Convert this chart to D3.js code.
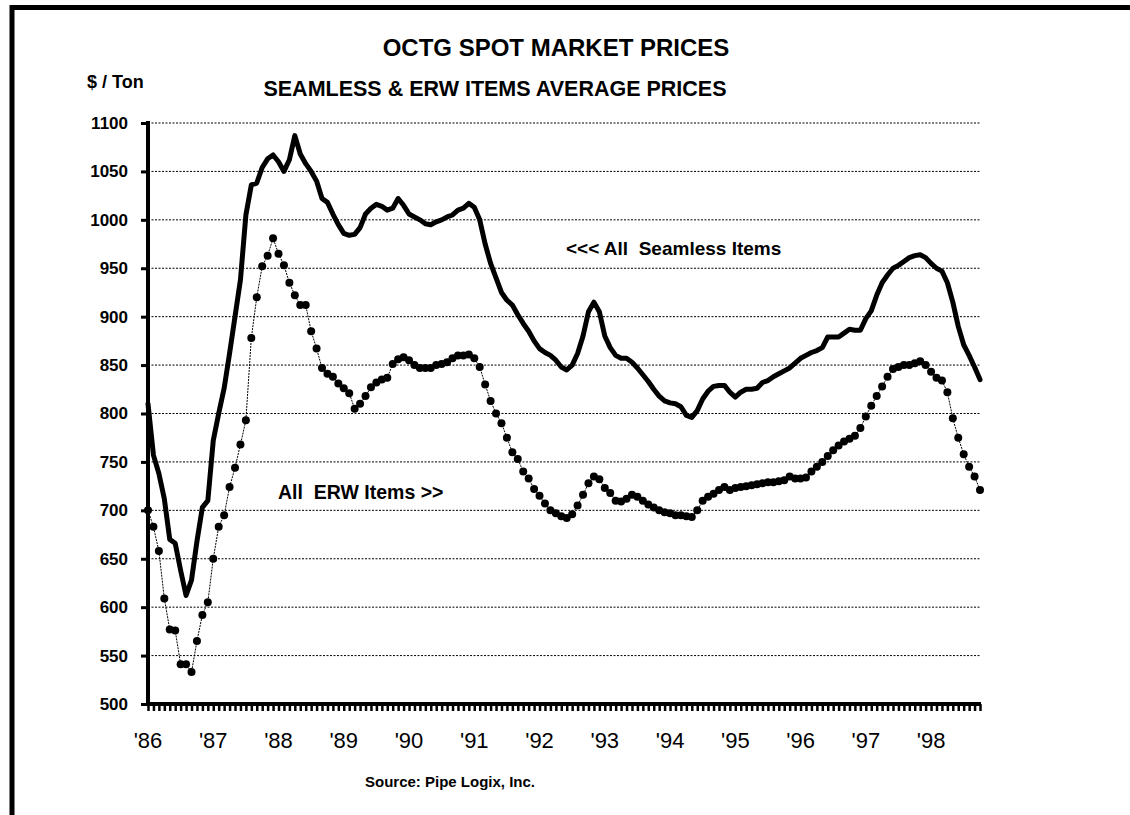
<!DOCTYPE html>
<html>
<head>
<meta charset="utf-8">
<script src="https://cdn.jsdelivr.net/npm/d3@7"></script>
<style>
  html, body { margin: 0; padding: 0; background: #fff; }
  svg { display: block; font-family: "Liberation Sans", Arial, sans-serif; }
</style>
</head>
<body>
<svg id="chart" width="1130" height="815"></svg>
<script>
// ---- Data (monthly, Jan 1986 .. Oct 1998), $/Ton ----
const seamless = [
  810, 757, 738, 712, 670, 666, 638, 612, 628, 668, 703, 710, 772,
  800, 826, 862, 900, 938, 1005, 1036, 1038, 1054, 1063, 1067, 1060, 1050,
  1062, 1087, 1068, 1058, 1050, 1040, 1022, 1018, 1006, 995, 986, 984, 985,
  992, 1006, 1012, 1016, 1014, 1010, 1012, 1022, 1015, 1006, 1003, 1000, 996,
  995, 998, 1000, 1003, 1005, 1010, 1012, 1017, 1013,
  1000, 975, 955, 940, 925, 917, 912, 902, 893, 885, 875, 867, 863, 860, 855,
  848, 845, 850, 862, 880, 905, 915, 905, 880, 868, 860, 857, 857, 853, 847,
  840, 833, 825,
  818, 813, 811, 810, 807, 798, 796, 803, 815, 823, 828, 829, 829, 822, 817,
  822, 825, 825, 826, 832, 834, 838, 841, 844, 847, 852, 857, 860, 863, 865,
  868, 879, 879, 879, 883, 887, 886, 886, 898, 906, 922, 935, 943, 950, 953,
  957, 961, 963, 964, 961, 955, 950, 947, 935, 915, 890, 871, 860, 848, 835
];
const erw = [
  700, 683, 658, 609, 577, 576, 541, 541, 533, 565, 592, 605, 650, 683, 695,
  724, 744, 768, 793, 878, 920, 952, 963, 981, 965, 953, 935, 922, 912, 912,
  885, 867, 847, 841, 838, 831, 826, 821, 805, 810, 818, 827, 832, 835, 837, 851,
  856, 858, 855, 850, 847, 847, 847, 850, 851, 853, 857, 860, 860, 861, 857,
  848, 830, 813, 800, 790, 775, 760, 753, 740, 733, 722, 715, 707, 700, 697,
  694, 692, 696, 705, 716, 728, 735, 732, 723, 718, 710, 709, 712, 716, 714,
  710, 706, 703,
  700, 698, 697, 695, 695, 694, 693, 700, 710, 714, 717, 721, 724, 721, 723,
  724, 725, 726, 727, 728, 729, 729, 730, 731, 735, 733, 733, 734, 740, 745,
  750, 756, 762, 767, 771, 774, 777, 785, 797, 808, 818, 828, 838, 846, 848,
  850, 850, 852, 854, 850, 843, 837, 834, 822, 795, 775, 758, 745, 735, 721
];
const yearLabels = ["'86","'87","'88","'89","'90","'91","'92","'93","'94","'95","'96","'97","'98"];
const yTicks = [500, 550, 600, 650, 700, 750, 800, 850, 900, 950, 1000, 1050, 1100];

const titleText = "OCTG SPOT MARKET PRICES";
const subtitleText = "SEAMLESS & ERW ITEMS AVERAGE PRICES";
const unitText = "$ / Ton";
const sourceText = "Source: Pipe Logix, Inc.";
const seamlessLabel = "<<< All\u00a0\u00a0Seamless Items";
const erwLabel = "All\u00a0\u00a0ERW Items >>";

// ---- Layout ----
const svg = d3.select("#chart");
const X0 = 148, X1 = 980, Y0 = 704, Y1 = 123;
const n = seamless.length;
const x = d3.scaleLinear().domain([0, n - 1]).range([X0, X1]);
const y = d3.scaleLinear().domain([500, 1100]).range([Y0, Y1]);

// frame (top and left thick rules)
svg.append("line").attr("x1", 10).attr("x2", 1130).attr("y1", 7.5).attr("y2", 7.5)
  .attr("stroke", "#000").attr("stroke-width", 5);
svg.append("line").attr("x1", 12).attr("x2", 12).attr("y1", 5).attr("y2", 815)
  .attr("stroke", "#000").attr("stroke-width", 5);

// gridlines
svg.append("g").selectAll("line")
  .data(yTicks.filter(d => d > 500))
  .join("line")
  .attr("x1", X0).attr("x2", X1)
  .attr("y1", d => y(d)).attr("y2", d => y(d))
  .attr("stroke", "#000").attr("stroke-width", 1)
  .attr("stroke-dasharray", "2,1.5");

// y axis
const yAxis = d3.axisLeft(y).tickValues(yTicks).tickSize(7).tickPadding(13)
  .tickFormat(d3.format("d"));
const gy = svg.append("g").attr("transform", `translate(${X0},0)`).call(yAxis);
gy.select(".domain").remove();
gy.selectAll(".tick line").attr("stroke", "#000").attr("stroke-width", 3);
gy.selectAll(".tick text").attr("fill", "#000")
  .style("font-size", "17px").style("font-weight", "bold")
  .style("font-family", "'Liberation Sans', Arial, sans-serif");
svg.append("line").attr("x1", X0).attr("x2", X0).attr("y1", Y1 - 2).attr("y2", Y0 + 2)
  .attr("stroke", "#000").attr("stroke-width", 4);

// x axis with one tick per month
const xAxis = d3.axisBottom(x).tickValues(d3.range(n)).tickSize(7).tickFormat("");
const gx = svg.append("g").attr("transform", `translate(0,${Y0})`).call(xAxis);
gx.select(".domain").remove();
gx.selectAll(".tick line").attr("stroke", "#000").attr("stroke-width", 2.5);
svg.append("line").attr("x1", X0 - 2).attr("x2", X1 + 1).attr("y1", Y0).attr("y2", Y0)
  .attr("stroke", "#000").attr("stroke-width", 4);

// year labels
svg.append("g").selectAll("text")
  .data(yearLabels)
  .join("text")
  .attr("x", (d, i) => x(i * 12))
  .attr("y", 748)
  .attr("text-anchor", "middle")
  .style("font-size", "22px")
  .text(d => d);

// series
const line = d3.line().x((d, i) => x(i)).y(d => y(d));
svg.append("path").datum(erw).attr("d", line)
  .attr("fill", "none").attr("stroke", "#000").attr("stroke-width", 1)
  .attr("stroke-dasharray", "2,1");
svg.append("g").selectAll("circle").data(erw).join("circle")
  .attr("cx", (d, i) => x(i)).attr("cy", d => y(d)).attr("r", 4).attr("fill", "#000");
svg.append("path").datum(seamless).attr("d", line)
  .attr("fill", "none").attr("stroke", "#000").attr("stroke-width", 5)
  .attr("stroke-linejoin", "round").attr("stroke-linecap", "round");

// texts
svg.append("text").attr("x", 556).attr("y", 56).attr("text-anchor", "middle")
  .style("font-size", "24px").style("font-weight", "bold").text(titleText);
svg.append("text").attr("x", 495).attr("y", 96).attr("text-anchor", "middle")
  .style("font-size", "21.5px").style("font-weight", "bold").text(subtitleText);
svg.append("text").attr("x", 87).attr("y", 88)
  .style("font-size", "18px").style("font-weight", "bold").text(unitText);
svg.append("text").attr("x", 566).attr("y", 255)
  .style("font-size", "19px").style("font-weight", "bold").text(seamlessLabel);
svg.append("text").attr("x", 278).attr("y", 499)
  .style("font-size", "19.5px").style("font-weight", "bold").text(erwLabel);
svg.append("text").attr("x", 450).attr("y", 787).attr("text-anchor", "middle")
  .style("font-size", "15px").style("font-weight", "bold").text(sourceText);
</script>
</body>
</html>
